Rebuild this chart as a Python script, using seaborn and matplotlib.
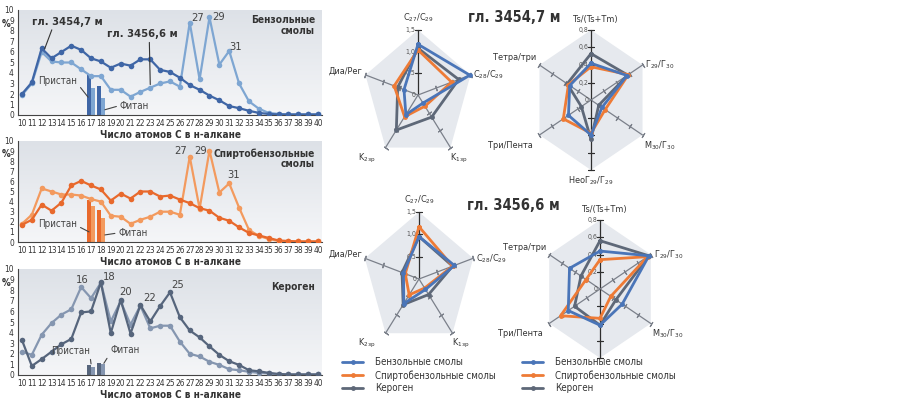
import numpy as np
import pandas as pd
import seaborn as sns
import matplotlib.pyplot as plt
from matplotlib.colors import LinearSegmentedColormap

sns.set_style('white')
plt.rcParams['font.family'] = ['DejaVu Sans']
plt.rcParams['font.stretch'] = 'condensed'

# ---- данные: распределение н-алканов, % ----
carbon = list(range(10, 41))

benz_3454 = [2.0, 3.1, 6.35, 5.4, 6.0, 6.6, 6.2, 5.4, 5.1, 4.5, 4.9, 4.7, 5.3, 5.3, 4.3, 4.1,
             3.55, 2.85, 2.4, 1.85, 1.4, 0.85, 0.65, 0.4, 0.2, 0.1, 0.05, 0.05, 0.05, 0.05, 0.05]
benz_3456 = [1.9, 3.0, 6.0, 5.1, 5.0, 5.0, 4.35, 3.7, 3.7, 2.4, 2.4, 1.75, 2.2, 2.6, 3.0, 3.2,
             2.7, 8.8, 3.4, 9.3, 4.8, 6.1, 3.0, 1.3, 0.6, 0.2, 0.1, 0.05, 0.05, 0.05, 0.05]

spirt_3454 = [1.7, 2.2, 3.7, 3.1, 3.9, 5.6, 6.05, 5.6, 5.2, 4.1, 4.8, 4.3, 5.0, 5.0, 4.5, 4.6,
              4.2, 3.85, 3.35, 3.1, 2.4, 2.1, 1.45, 0.9, 0.65, 0.4, 0.15, 0.1, 0.05, 0.05, 0.05]
spirt_3456 = [1.8, 2.7, 5.3, 5.0, 4.7, 4.7, 4.6, 4.25, 4.0, 2.6, 2.5, 1.8, 2.2, 2.5, 3.0, 3.0,
              2.7, 8.45, 3.3, 9.05, 4.9, 5.8, 3.4, 1.2, 0.6, 0.3, 0.1, 0.05, 0.05, 0.05, 0.05]

ker_3454 = [3.3, 0.85, 1.5, 2.2, 2.9, 3.4, 5.9, 6.0, 8.75, 3.95, 7.1, 3.9, 6.6, 5.05, 6.5, 7.8,
            5.45, 4.2, 3.55, 2.7, 1.9, 1.3, 0.95, 0.45, 0.35, 0.2, 0.1, 0.05, 0.05, 0.05, 0.05]
ker_3456 = [2.2, 1.9, 3.8, 4.9, 5.7, 6.2, 8.3, 7.25, 8.7, 5.05, 6.95, 4.75, 6.55, 4.4, 4.65, 4.65,
            3.15, 2.0, 1.75, 1.25, 0.95, 0.55, 0.45, 0.3, 0.2, 0.15, 0.05, 0.05, 0.05, 0.05, 0.05]

# пристан (C17) и фитан (C18)
isoprenoid_c = [17, 18]
benz_bars_3454 = [3.9, 2.75]
benz_bars_3456 = [2.6, 1.65]
spirt_bars_3454 = [4.2, 3.2]
spirt_bars_3456 = [3.6, 2.4]
ker_bars_3454 = [0.95, 1.1]
ker_bars_3456 = [0.8, 1.0]

# ---- данные: лепестковые диаграммы ----
penta_labels = ['C$_{27}$/C$_{29}$', 'C$_{28}$/C$_{29}$', 'K$_{\\mathrm{1зр}}$',
                'K$_{\\mathrm{2зр}}$', 'Диа/Рег']
hexa_labels = ['Ts/(Ts+Tm)', 'Г$_{29}$/Г$_{30}$', 'М$_{30}$/Г$_{30}$',
               'НеоГ$_{29}$/Г$_{29}$', 'Три/Пента', 'Тетра/три']

penta_3454_benz = [1.17, 1.48, 0.23, 0.56, 0.40]
penta_3454_spirt = [1.04, 0.96, 0.32, 0.62, 0.68]
penta_3454_ker = [1.08, 1.16, 0.63, 1.00, 0.58]
penta_3456_benz = [0.95, 0.98, 0.29, 0.68, 0.43]
penta_3456_spirt = [1.17, 0.93, 0.25, 0.44, 0.38]
penta_3456_ker = [0.95, 0.93, 0.43, 0.71, 0.47]

hexa_3454_benz = [0.42, 0.56, 0.17, 0.40, 0.35, 0.33]
hexa_3454_spirt = [0.38, 0.58, 0.22, 0.38, 0.43, 0.35]
hexa_3454_ker = [0.53, 0.57, 0.12, 0.45, 0.15, 0.37]
hexa_3456_benz = [0.44, 0.77, 0.35, 0.42, 0.50, 0.48]
hexa_3456_spirt = [0.34, 0.75, 0.17, 0.34, 0.62, 0.22]
hexa_3456_ker = [0.56, 0.77, 0.25, 0.42, 0.40, 0.30]

legend_names = ['Бензольные смолы', 'Спиртобензольные смолы', 'Кероген']
radar_colors = ['#4a75b8', '#ee7b36', '#5e6878']

W, H = 899, 400
fig = plt.figure(figsize=(W / 100, H / 100), dpi=100)


def box(left, top, right, bottom):
    return [left / W, 1 - bottom / H, (right - left) / W, (bottom - top) / H]


bg_cmap = LinearSegmentedColormap.from_list('bg', ['#f5f6f8', '#dde1e7'])
txt = '#333333'


def line_panel(rect, v_dark, v_light, bars_dark, bars_light, c_dark, c_light):
    ax = fig.add_axes(rect)
    ax.imshow(np.linspace(0, 1, 256).reshape(-1, 1), extent=[0, 1, 0, 1], transform=ax.transAxes,
              cmap=bg_cmap, aspect='auto', origin='lower', zorder=0)
    df = pd.DataFrame({'C': carbon * 2,
                       'val': v_dark + v_light,
                       'depth': ['3454,7'] * len(carbon) + ['3456,6'] * len(carbon)})
    ax.bar([c - 0.2 for c in isoprenoid_c], bars_dark, width=0.42, color=c_dark, zorder=2, lw=0)
    ax.bar([c + 0.21 for c in isoprenoid_c], bars_light, width=0.38, color=c_light, zorder=2, lw=0)
    sns.lineplot(data=df, x='C', y='val', hue='depth', hue_order=['3456,6', '3454,7'],
                 palette={'3454,7': c_dark, '3456,6': c_light}, marker='o', markersize=4,
                 markeredgewidth=0, linewidth=1.6, legend=False, ax=ax, zorder=3)
    ax.set_xlim(9.6, 40.4)
    ax.set_ylim(0, 10)
    ax.set_xticks(carbon)
    ax.set_yticks(range(0, 11))
    ax.tick_params(axis='both', labelsize=6, length=2, width=0.6, pad=1, colors=txt)
    for s in ['top', 'right']:
        ax.spines[s].set_visible(False)
    for s in ['left', 'bottom']:
        ax.spines[s].set_color('#444444')
        ax.spines[s].set_linewidth(0.8)
    ax.set_xlabel('Число атомов С в н-алкане', fontsize=7.2, fontweight='bold', color=txt, labelpad=1)
    ax.set_ylabel('')
    ax.text(-0.04, 0.87, '%', transform=ax.transAxes, fontsize=7, fontweight='bold',
            color=txt, ha='center', va='center')
    return ax


def note(ax, s, xy, xytext, ha='left', relpos=(0, 0.5), size=7):
    ax.annotate(s, xy=xy, xytext=xytext, ha=ha, va='center', fontsize=size, color='#444444',
                arrowprops=dict(arrowstyle='-', color='#444444', lw=0.8, relpos=relpos,
                                shrinkA=0, shrinkB=0))


def depth_note(ax, s, xy, xytext, relpos):
    ax.annotate(s, xy=xy, xytext=xytext, fontsize=8, fontweight='bold', color=txt,
                va='center', ha='left',
                arrowprops=dict(arrowstyle='-', color='#333333', lw=0.8, relpos=relpos,
                                shrinkA=0, shrinkB=0))


# ---- панель 1: бензольные смолы ----
ax1 = line_panel(box(18, 10, 322, 115), benz_3454, benz_3456, benz_bars_3454, benz_bars_3456,
                 '#3f66a6', '#7ea6d2')
ax1.text(39.7, 9.5, 'Бензольные\nсмолы', ha='right', va='top', fontsize=7.3, fontweight='bold',
         color=txt, linespacing=1.1)
depth_note(ax1, 'гл. 3454,7 м', (12.3, 6.3), (11.0, 8.9), (0.3, 0))
depth_note(ax1, 'гл. 3456,6 м', (23.0, 2.9), (18.6, 7.7), (0.6, 0))
for s, x, y in [('27', 27.8, 9.25), ('29', 29.9, 9.35), ('31', 31.6, 6.5)]:
    ax1.text(x, y, s, fontsize=8, color='#444444', ha='center', va='center')
note(ax1, 'Пристан', (16.7, 1.7), (15.6, 3.2), ha='right', relpos=(1, 0.3))
note(ax1, 'Фитан', (18.4, 0.5), (19.9, 0.9), ha='left', relpos=(0, 0.5))

# ---- панель 2: спиртобензольные смолы ----
ax2 = line_panel(box(18, 141, 322, 242), spirt_3454, spirt_3456, spirt_bars_3454, spirt_bars_3456,
                 '#e8692c', '#f39a5e')
ax2.text(39.7, 9.3, 'Спиртобензольные\nсмолы', ha='right', va='top', fontsize=7.3,
         fontweight='bold', color=txt, linespacing=1.1)
for s, x, y in [('27', 26.1, 9.0), ('29', 28.1, 9.0), ('31', 31.4, 6.6)]:
    ax2.text(x, y, s, fontsize=8, color='#444444', ha='center', va='center')
note(ax2, 'Пристан', (16.8, 1.0), (15.6, 1.8), ha='right', relpos=(1, 0.3))
note(ax2, 'Фитан', (18.4, 0.7), (19.75, 0.9), ha='left', relpos=(0, 0.5))

# ---- панель 3: кероген ----
ax3 = line_panel(box(18, 269, 322, 375), ker_3454, ker_3456, ker_bars_3454, ker_bars_3456,
                 '#56657c', '#8596b0')
ax3.text(39.7, 8.8, 'Кероген', ha='right', va='top', fontsize=7.3, fontweight='bold', color=txt)
for s, x, y in [('16', 16.1, 9.0), ('18', 18.8, 9.2), ('20', 20.5, 7.8), ('22', 22.9, 7.3),
                ('25', 25.8, 8.5)]:
    ax3.text(x, y, s, fontsize=8, color='#444444', ha='center', va='center')
note(ax3, 'Пристан', (17.0, 1.05), (16.9, 2.25), ha='right', relpos=(1, 0))
note(ax3, 'Фитан', (18.3, 1.1), (18.95, 2.35), ha='left', relpos=(0, 0.2))


# ---- лепестковые диаграммы ----
def radar(cx, cy, R, labels, series, rmax, ticks, ticklabels, label_off, dark_axes):
    squeeze = 0.85
    ax = fig.add_axes(box(cx - squeeze * R, cy - R, cx + squeeze * R, cy + R), projection='polar')
    ax.set_aspect('auto')
    ax.set_theta_offset(np.pi / 2)
    ax.set_theta_direction(-1)
    ax.set_ylim(0, rmax)
    ax.axis('off')
    n = len(labels)
    theta = np.linspace(0, 2 * np.pi, n, endpoint=False)
    th_c = np.append(theta, theta[0])
    ax.fill(th_c, [rmax] * (n + 1), color='#e6e9ee', lw=0, zorder=0, clip_on=False)
    for i, t in enumerate(theta):
        col = '#2f2f2f' if i in dark_axes else '#7b808a'
        ax.plot([t, t], [0, rmax], color=col, lw=0.9, zorder=1, clip_on=False)
        phi = 90 - np.degrees(t)
        ax.plot([t] * len(ticks), ticks, linestyle='none', marker=(2, 2, phi), ms=4,
                mec=col, mew=0.8, zorder=1, clip_on=False)
        if label_off[i] is None:
            continue
        dx, dy, ha, va = label_off[i]
        ax.annotate(labels[i], xy=(t, rmax), xytext=(dx, dy), textcoords='offset points',
                    ha=ha, va=va, fontsize=6.6, color=txt, annotation_clip=False)
    for r, tl in zip([0] + ticks, ticklabels):
        ax.annotate(tl, xy=(0, r), xytext=(-2, 0), textcoords='offset points', ha='right',
                    va='center', fontsize=5, color='#555555', annotation_clip=False)
    handles = []
    for name, vals, col in series:
        h, = ax.plot(th_c, np.append(vals, vals[0]), color=col, lw=2, marker='o', ms=3.5,
                     mew=0, label=name, zorder=3, clip_on=False)
        handles.append(h)
    return ax, handles


penta_off = [(0, 4, 'center', 'bottom'), (2, 0, 'left', 'center'), (0, -3, 'left', 'top'),
             (-7, -3, 'right', 'top'), (-2, 3, 'right', 'center')]
hexa_off = [(3, 4, 'center', 'bottom'), (2, 0, 'left', 'center'), (1, -3, 'left', 'top'),
            (0, -3, 'center', 'top'), (-5, -4, 'right', 'top'), (-2, 2, 'right', 'bottom')]
hexa_off_low = hexa_off[:3] + [None] + hexa_off[4:]
penta_ticks = [0.5, 1.0, 1.5]
penta_tl = ['0', '0,5', '1,0', '1,5']
hexa_ticks = [0.2, 0.4, 0.6, 0.8]
hexa_tl = ['0', '0,2', '0,4', '0,6', '0,8']


def series_list(b, s, k):
    # порядок отрисовки: кероген, спиртобензольные, бензольные
    return [(legend_names[2], k, radar_colors[2]), (legend_names[1], s, radar_colors[1]),
            (legend_names[0], b, radar_colors[0])]


radar(418, 95, 65, penta_labels, series_list(penta_3454_benz, penta_3454_spirt, penta_3454_ker),
      1.5, penta_ticks, penta_tl, penta_off, [0])
radar(591, 100, 70, hexa_labels, series_list(hexa_3454_benz, hexa_3454_spirt, hexa_3454_ker),
      0.8, hexa_ticks, hexa_tl, hexa_off, [0, 3])
_, hp = radar(419, 279, 67, penta_labels, series_list(penta_3456_benz, penta_3456_spirt, penta_3456_ker),
              1.5, penta_ticks, penta_tl, penta_off, [0])
_, hh = radar(600, 289, 69, hexa_labels, series_list(hexa_3456_benz, hexa_3456_spirt, hexa_3456_ker),
              0.8, hexa_ticks, hexa_tl, hexa_off_low, [0, 3])

fig.text(468 / W, 1 - 18 / H, 'гл. 3454,7 м', fontsize=10.5, fontweight='bold', color=txt, va='center')
fig.text(467 / W, 1 - 206 / H, 'гл. 3456,6 м', fontsize=10.5, fontweight='bold', color=txt, va='center')

for x0, hs in [(342, hp), (522, hh)]:
    hs = hs[::-1]
    fig.legend(hs, [h.get_label() for h in hs], loc='upper left',
               bbox_to_anchor=(x0 / W, 1 - 357 / H), frameon=False, fontsize=7,
               handlelength=2.2, handletextpad=1.2, labelspacing=0.3, borderpad=0,
               borderaxespad=0, labelcolor=txt)

fig.savefig('out.png', dpi=100)
